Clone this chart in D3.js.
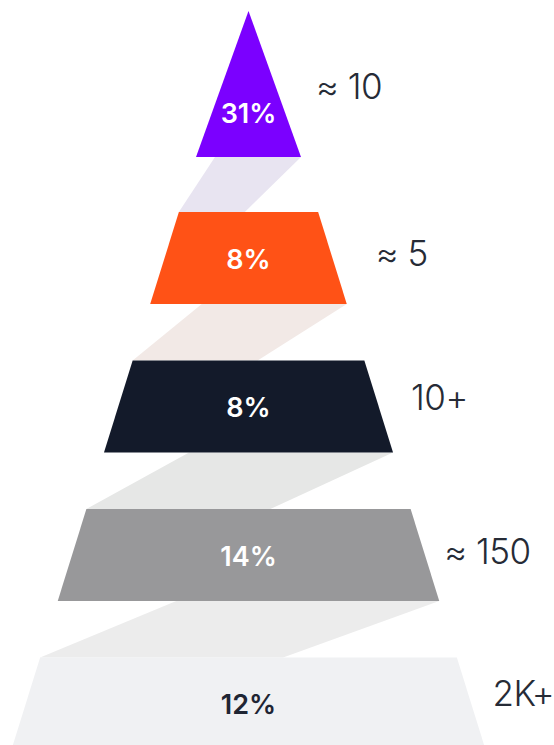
<!DOCTYPE html>
<html><head><meta charset="utf-8">
<script src="https://cdn.jsdelivr.net/npm/d3@7/dist/d3.min.js"></script>
<style>html,body{margin:0;padding:0;background:#fff;overflow:hidden}svg{display:block}</style>
</head><body>
<script>
// ---- data ----
const categories = ["≈ 10", "≈ 5", "10+", "≈ 150", "2K+"];
const percentValues = [31, 8, 8, 14, 12];
// ---- styles ----
const tierColors = ["#7b00ff", "#ff5216", "#131a2a", "#98989a", "#f0f1f3"];
const connectorColors = ["#e8e4f1", "#f2e9e6", "#e6e7e6", "#ececec"];
const pctColors = ["#ffffff", "#ffffff", "#ffffff", "#ffffff", "#1f2533"];
const labelColor = "#262b36";
// ---- layout ----
const W = 554, H = 745, cx = 248.5;
const tierH = 92, apexY = 11, triBase = 157;
const labelDx = [15, 29, 18, 5, 7];
const labelDy = [15, 8, 3.5, 9, 2.5];

const svg = d3.select("body").append("svg").attr("width", W).attr("height", H);

const yTop = d3.scaleLinear().domain([1, 4]).range([212, 657.5]);
const halfW = d3.scaleLinear().domain([triBase, 749.5]).range([52.5, 237]);

const tiers = categories.map((c, i) => {
  const t = i === 0 ? apexY : yTop(i);
  const b = i === 0 ? triBase : yTop(i) + tierH;
  const ht = i === 0 ? 0 : halfW(t);
  const hb = halfW(b);
  return {i, label: c, pct: percentValues[i], t, b, ht, hb};
});

// connectors
const conns = d3.range(tiers.length - 1).map(i => {
  const up = tiers[i], dn = tiers[i + 1];
  const wt = 86 + 59 * i, wb = 66 + 59 * i;
  return [
    [cx + up.hb - wt, up.b], [cx + up.hb, up.b],
    [cx - dn.ht + wb, dn.t], [cx - dn.ht, dn.t]
  ];
});
const line = d3.line().curve(d3.curveLinearClosed);
svg.append("g").selectAll("path").data(conns).join("path")
  .attr("d", d => line(d))
  .attr("fill", (d, i) => connectorColors[i]);

svg.append("g").selectAll("path").data(tiers).join("path")
  .attr("d", d => line([[cx - d.ht, d.t], [cx + d.ht, d.t], [cx + d.hb, d.b], [cx - d.hb, d.b]]))
  .attr("fill", d => tierColors[d.i]);

svg.append("g").selectAll("text").data(tiers).join("text")
  .attr("x", cx)
  .attr("y", d => d.i === 0 ? d.t + (d.b - d.t) * 0.7 + 10 : (d.t + d.b) / 2 + 10.5)
  .attr("text-anchor", "middle")
  .attr("font-family", "Inter, 'Open Sans', sans-serif")
  .attr("font-weight", 600)
  .attr("font-size", 27)
  .attr("fill", d => pctColors[d.i])
  .text(d => d.pct + "%");

svg.append("g").selectAll("text").data(tiers).join("text")
  .attr("x", d => cx + d.hb + labelDx[d.i])
  .attr("y", d => (d.t + d.b) / 2 + labelDy[d.i])
  .attr("font-family", "Inter, 'Open Sans', sans-serif")
  .attr("font-weight", 300)
  .attr("font-size", 35)
  .attr("letter-spacing", -0.5)
  .attr("fill", labelColor)
  .text(d => d.label);
</script>
</body></html>
